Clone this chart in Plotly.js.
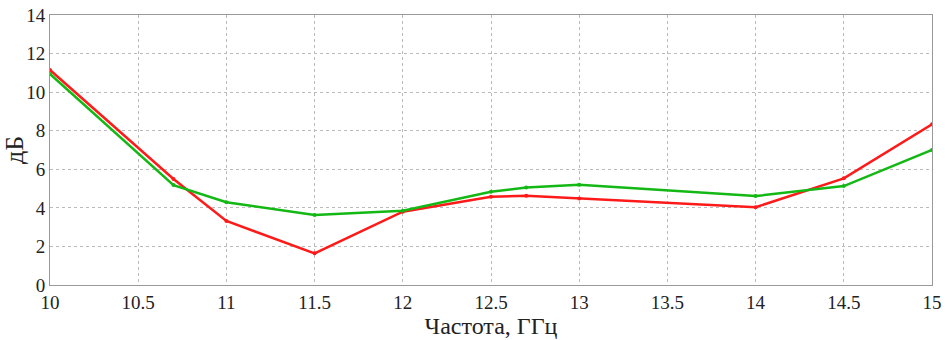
<!DOCTYPE html>
<html><head><meta charset="utf-8">
<script src="https://cdn.plot.ly/plotly-3.0.1.min.js"></script>
<style>body{margin:0;background:#fff}#c{width:945px;height:340px}
.xtick text,.ytick text{font-family:'Liberation Serif',serif !important;font-size:19px !important;fill:#222 !important}</style>
</head><body><div id="c"></div>
<script>
const redX = [10, 10.7, 11, 11.5, 12, 12.5, 12.7, 13, 14, 14.5, 15];
const redY = [11.15, 5.5, 3.32, 1.64, 3.8, 4.58, 4.63, 4.49, 4.03, 5.53, 8.33];
const greenX = [10, 10.7, 11, 11.5, 12, 12.5, 12.7, 13, 14, 14.5, 15];
const greenY = [10.94, 5.18, 4.29, 3.63, 3.85, 4.84, 5.05, 5.2, 4.61, 5.13, 7.0];
const xTicks = [10, 10.5, 11, 11.5, 12, 12.5, 13, 13.5, 14, 14.5, 15];
const yTicks = [0, 2, 4, 6, 8, 10, 12, 14];
const FAM = "Liberation Serif";
Plotly.newPlot('c', [
  {x: redX, y: redY, mode: 'lines+markers', line: {color: '#ff1a1a', width: 2.5}, marker: {size: 4, color: '#ff1a1a'}},
  {x: greenX, y: greenY, mode: 'lines+markers', line: {color: '#14b814', width: 2.5}, marker: {size: 4, color: '#14b814'}}
], {
  width: 945, height: 340,
  margin: {l: 50, r: 13, t: 15, b: 55},
  showlegend: false,
  paper_bgcolor: '#fff', plot_bgcolor: '#fff',
  font: {family: FAM, size: 19, color: '#222'},
  xaxis: {range: [10, 15], tickmode: 'array', tickvals: xTicks, ticktext: xTicks.map(String),
    showline: true, linecolor: '#999', mirror: true, linewidth: 1,
    showgrid: true, gridcolor: '#bbb', griddash: 'dot', zeroline: false,
    ticks: '', tickfont: {family: FAM, size: 19, color: '#222'},
    title: {text: 'Частота, ГГц', font: {family: FAM, size: 24, color: '#222'}, standoff: 2}},
  yaxis: {range: [0, 14], tickmode: 'array', tickvals: yTicks, ticktext: yTicks.map(String),
    showline: true, linecolor: '#999', mirror: true, linewidth: 1,
    showgrid: true, gridcolor: '#bbb', griddash: 'dot', zeroline: false,
    ticks: '', tickfont: {family: FAM, size: 19, color: '#222'},
    title: {text: 'дБ', font: {family: FAM, size: 26, color: '#222'}, standoff: 2}}
}, {staticPlot: true});
</script></body></html>
